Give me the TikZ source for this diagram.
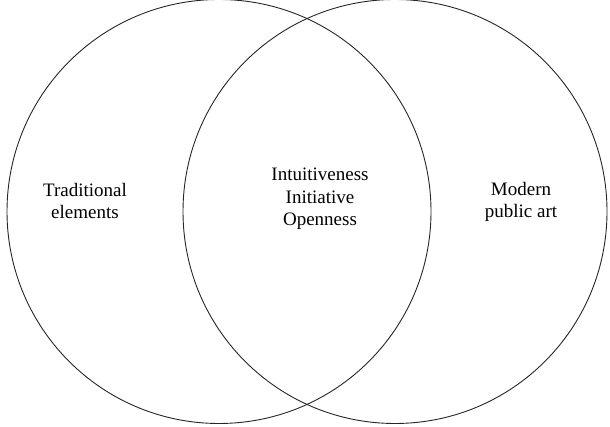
\documentclass[tikz,border=0pt]{standalone}
\usepackage{fontspec}
\setmainfont{Liberation Serif}
\begin{document}
\begin{tikzpicture}[x=1pt,y=1pt,
  setcircle/.style={draw=black!85,line width=0.9pt},
  label/.style={align=center,font=\fontsize{19}{22.5}\selectfont,inner sep=0pt}]
\useasboundingbox (0,0) rectangle (610,426);
\node[setcircle,circle,minimum size=424pt,inner sep=0pt] (L) at (219,214.5) {};
\node[setcircle,circle,minimum size=424pt,inner sep=0pt] (R) at (395,214.5) {};
\node[label] (t1) at (85,225) {Traditional\\elements};
\node[label] (t2) at (320,227) {Intuitiveness\\Initiative\\Openness};
\node[label] (t3) at (521,224) {Modern\\public art};
\end{tikzpicture}
\end{document}
